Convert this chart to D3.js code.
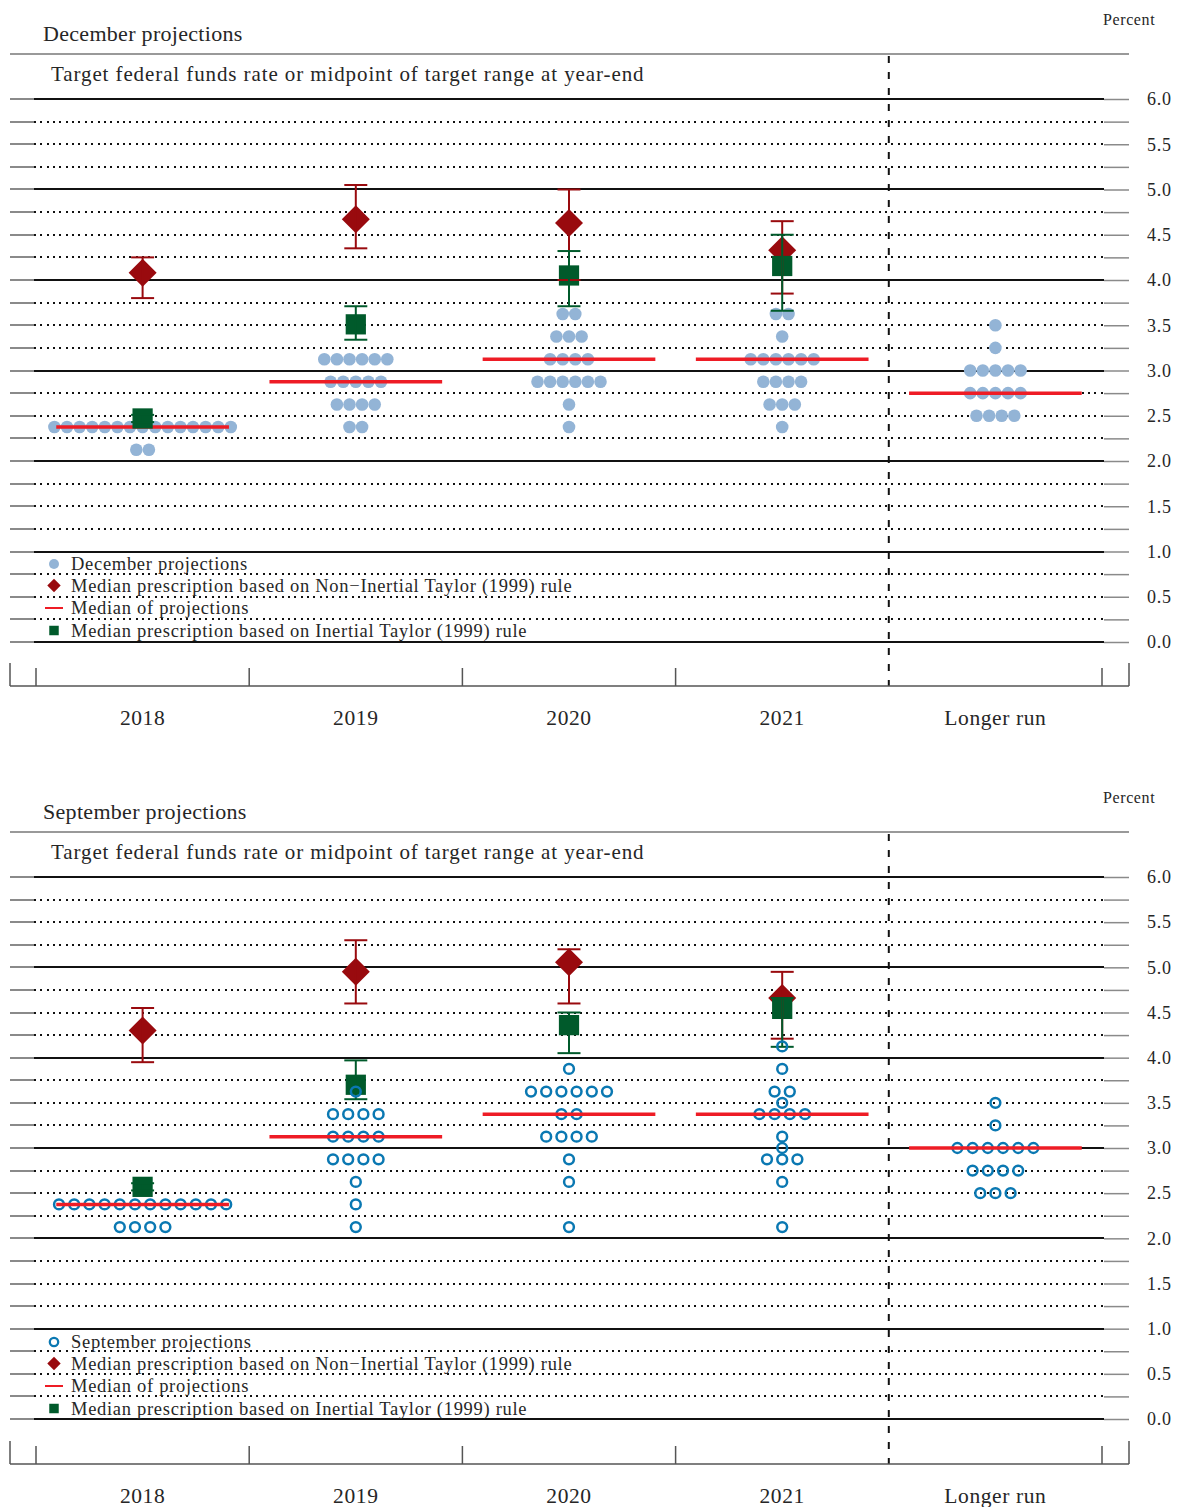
<!DOCTYPE html>
<html>
<head>
<meta charset="utf-8">
<script src="https://cdn.jsdelivr.net/npm/d3@7"></script>
<style>
  body { margin: 0; background: #fff; }
  svg { display: block; }
  text { font-family: "Liberation Serif", "Times New Roman", serif; fill: #262626; }
</style>
</head>
<body>
<svg id="chart" width="1180" height="1507"></svg>
<script>
// ---- Data ---------------------------------------------------------------
const categories = ["2018", "2019", "2020", "2021", "Longer run"];
const yLabelValues = [0, 0.5, 1, 1.5, 2, 2.5, 3, 3.5, 4, 4.5, 5, 5.5, 6];
const yTickLabels = ["0.0", "0.5", "1.0", "1.5", "2.0", "2.5", "3.0", "3.5", "4.0", "4.5", "5.0", "5.5", "6.0"];
const gridValues = d3.range(0, 25).map(i => i * 0.25);

// December projections: rate levels per column and number of participants at each
const decDotRates = [
  [2.375, 2.125],
  [3.125, 2.875, 2.625, 2.375],
  [3.625, 3.375, 3.125, 2.875, 2.625, 2.375],
  [3.625, 3.375, 3.125, 2.875, 2.625, 2.375],
  [3.5, 3.25, 3.0, 2.75, 2.5]
];
const decDotCounts = [
  [15, 2],
  [6, 5, 4, 2],
  [2, 3, 4, 6, 1, 1],
  [2, 1, 6, 4, 3, 1],
  [1, 1, 5, 5, 4]
];
const decMedians = [2.375, 2.875, 3.125, 3.125, 2.75];
const decNonInertial = [4.08, 4.67, 4.63, 4.33];
const decNonInertialLow = [3.80, 4.35, 4.00, 3.85];
const decNonInertialHigh = [4.25, 5.05, 5.00, 4.65];
const decInertial = [2.47, 3.51, 4.05, 4.155];
const decInertialLow = [2.43, 3.34, 3.71, 3.66];
const decInertialHigh = [2.51, 3.71, 4.32, 4.50];

// September projections
const sepDotRates = [
  [2.375, 2.125],
  [3.625, 3.375, 3.125, 2.875, 2.625, 2.375, 2.125],
  [3.875, 3.625, 3.375, 3.125, 2.875, 2.625, 2.125],
  [4.125, 3.875, 3.625, 3.5, 3.375, 3.125, 3.0, 2.875, 2.625, 2.125],
  [3.5, 3.25, 3.0, 2.75, 2.5]
];
const sepDotCounts = [
  [12, 4],
  [1, 4, 4, 4, 1, 1, 1],
  [1, 6, 2, 4, 1, 1, 1],
  [1, 1, 2, 1, 4, 1, 1, 3, 1, 1],
  [1, 1, 6, 4, 3]
];
const sepMedians = [2.375, 3.125, 3.375, 3.375, 3.0];
const sepNonInertial = [4.30, 4.95, 5.055, 4.66];
const sepNonInertialLow = [3.95, 4.60, 4.60, 4.21];
const sepNonInertialHigh = [4.55, 5.30, 5.20, 4.95];
const sepInertial = [2.57, 3.70, 4.36, 4.54];
const sepInertialLow = [2.53, 3.54, 4.05, 4.12];
const sepInertialHigh = [2.61, 3.97, 4.50, 4.66];

const legendLabels = [
  null, // first row is the panel's own dot label
  "Median prescription based on Non\u2212Inertial Taylor (1999) rule",
  "Median of projections",
  "Median prescription based on Inertial Taylor (1999) rule"
];

// ---- Styling ------------------------------------------------------------
const COLORS = {
  decDot: "#93b4d6",
  sepDot: "#0a78b2",
  diamond: "#990a0e",
  square: "#005a2b",
  median: "#ee1c25",
  grid: "#111",
  tick: "#8a8a8a",
  frame: "#555"
};

const svg = d3.select("#chart");
const x = d3.scaleBand().domain(categories).range([36, 1102]);

const panels = [
  {
    off: 0, y0: 642, y6: 99, title: "December projections", dotLabel: "December projections",
    open: false, rates: decDotRates, counts: decDotCounts, medians: decMedians,
    ni: decNonInertial, niLo: decNonInertialLow, niHi: decNonInertialHigh,
    in: decInertial, inLo: decInertialLow, inHi: decInertialHigh
  },
  {
    off: 778, y0: 1419, y6: 877, title: "September projections", dotLabel: "September projections",
    open: true, rates: sepDotRates, counts: sepDotCounts, medians: sepMedians,
    ni: sepNonInertial, niLo: sepNonInertialLow, niHi: sepNonInertialHigh,
    in: sepInertial, inLo: sepInertialLow, inHi: sepInertialHigh
  }
];

const diamondPath = d3.symbol(d3.symbolSquare, 392)();
const squarePath = d3.symbol(d3.symbolSquare, 410)();

function drawPanel(p) {
  const g = svg.append("g");
  const off = p.off;
  const y = d3.scaleLinear().domain([0, 6]).range([p.y0, p.y6]);
  const axisY = off + 686;

  // Headings
  g.append("text").attr("x", 1103).attr("y", off + 19).attr("dy", "0.35em")
    .style("font-size", "16px").style("letter-spacing", "0.6px").text("Percent");
  g.append("text").attr("x", 43).attr("y", off + 33).attr("dy", "0.35em")
    .style("font-size", "22px").style("letter-spacing", "0.3px").text(p.title);
  g.append("line").attr("x1", 10).attr("x2", 1129).attr("y1", off + 54).attr("y2", off + 54)
    .attr("stroke", "#777").attr("stroke-width", 1.5);
  g.append("text").attr("x", 51).attr("y", off + 74).attr("dy", "0.35em")
    .style("font-size", "21px").style("letter-spacing", "0.9px")
    .text("Target federal funds rate or midpoint of target range at year-end");

  // Horizontal grid: solid at whole percents, dotted at quarter points
  const grid = g.append("g").attr("shape-rendering", "crispEdges");
  gridValues.forEach(v => {
    const major = Math.abs(v - Math.round(v)) < 1e-9;
    const yy = Math.round(y(v));
    grid.append("line").attr("x1", 10).attr("x2", 34).attr("y1", yy).attr("y2", yy)
      .attr("stroke", COLORS.tick).attr("stroke-width", 1.5);
    grid.append("line").attr("x1", 34).attr("x2", 1104).attr("y1", yy).attr("y2", yy)
      .attr("stroke", COLORS.grid).attr("stroke-width", 2)
      .attr("stroke-dasharray", major ? null : "2,4.35");
  });

  // Right-hand value axis
  const yAxis = d3.axisRight(y).tickValues(gridValues).tickSize(25).tickPadding(18)
    .tickFormat(d => {
      const i = yLabelValues.findIndex(v => Math.abs(v - d) < 1e-9);
      return i >= 0 ? yTickLabels[i] : "";
    });
  const ya = g.append("g").attr("transform", "translate(1104,0)").call(yAxis);
  ya.attr("font-family", null).attr("font-size", null);
  ya.select(".domain").remove();
  ya.selectAll(".tick line").attr("stroke", COLORS.tick).attr("stroke-width", 1.5);
  ya.selectAll(".tick text").attr("fill", "#262626").style("font-size", "18px")
    .style("letter-spacing", "0.8px");

  // Separator before the longer-run column
  const sepX = x("Longer run");
  g.append("line").attr("x1", sepX).attr("x2", sepX).attr("y1", off + 56).attr("y2", axisY)
    .attr("stroke", "#111").attr("stroke-width", 2).attr("stroke-dasharray", "7,9");

  // Category axis
  g.append("line").attr("x1", 10).attr("x2", 1129).attr("y1", axisY).attr("y2", axisY)
    .attr("stroke", COLORS.frame).attr("stroke-width", 1.5);
  [10, 1129].forEach(xx => g.append("line").attr("x1", xx).attr("x2", xx)
    .attr("y1", axisY - 23).attr("y2", axisY).attr("stroke", COLORS.frame).attr("stroke-width", 1.5));
  const edges = categories.map(c => x(c)).concat([x.range()[1]]).filter(e => Math.abs(e - sepX) > 1);
  edges.forEach(e => g.append("line").attr("x1", e).attr("x2", e)
    .attr("y1", axisY - 18).attr("y2", axisY).attr("stroke", COLORS.frame).attr("stroke-width", 1.5));
  const xa = g.append("g").attr("transform", `translate(0,${axisY})`)
    .call(d3.axisBottom(x).tickSize(0).tickPadding(24));
  xa.attr("font-family", null).attr("font-size", null);
  xa.select(".domain").remove();
  xa.selectAll(".tick text").attr("fill", "#262626").style("font-size", "21.5px")
    .style("letter-spacing", "0.6px");

  const cx = c => x(c) + x.bandwidth() / 2;

  // Layers
  const dotLayer = g.append("g");
  const medianLayer = g.append("g");
  const markerLayer = g.append("g");
  if (p.open) { dotLayer.raise(); medianLayer.raise(); }

  // Participants' projections
  const spacing = p.open ? 15.2 : 12.6;
  categories.forEach((c, ci) => {
    p.rates[ci].forEach((r, ri) => {
      const n = p.counts[ci][ri];
      d3.range(n).forEach(k => {
        const circ = dotLayer.append("circle")
          .attr("cx", cx(c) + (k - (n - 1) / 2) * spacing)
          .attr("cy", y(r));
        if (p.open) {
          circ.attr("r", 4.9).attr("fill", "none")
            .attr("stroke", COLORS.sepDot).attr("stroke-width", 2.5);
        } else {
          circ.attr("r", 6.3).attr("fill", COLORS.decDot);
        }
      });
    });
  });

  // Medians of projections
  const half = x.bandwidth() * 0.405;
  categories.forEach((c, ci) => {
    medianLayer.append("line").attr("x1", cx(c) - half).attr("x2", cx(c) + half)
      .attr("y1", y(p.medians[ci])).attr("y2", y(p.medians[ci]))
      .attr("stroke", COLORS.median).attr("stroke-width", 3.5);
  });

  // Policy-rule prescriptions with ranges
  const capHalf = 11.5;
  function errorBar(c, lo, hi, color) {
    const gg = markerLayer.append("g").attr("stroke", color).attr("stroke-width", 2);
    gg.append("line").attr("x1", cx(c)).attr("x2", cx(c)).attr("y1", y(lo)).attr("y2", y(hi));
    [lo, hi].forEach(v => gg.append("line").attr("x1", cx(c) - capHalf).attr("x2", cx(c) + capHalf)
      .attr("y1", y(v)).attr("y2", y(v)));
  }
  const rule = categories.slice(0, 4);
  rule.forEach((c, ci) => {
    markerLayer.append("path").attr("d", diamondPath)
      .attr("transform", `translate(${cx(c)},${y(p.ni[ci])}) rotate(45)`)
      .attr("fill", COLORS.diamond);
  });
  rule.forEach((c, ci) => {
    markerLayer.append("path").attr("d", squarePath)
      .attr("transform", `translate(${cx(c)},${y(p.in[ci])})`)
      .attr("fill", COLORS.square);
  });
  rule.forEach((c, ci) => errorBar(c, p.niLo[ci], p.niHi[ci], COLORS.diamond));
  rule.forEach((c, ci) => errorBar(c, p.inLo[ci], p.inHi[ci], COLORS.square));

  // Legend
  const lg = g.append("g");
  const rows = [off + 564, off + 585.5, off + 608, off + 630.5];
  const labels = [p.dotLabel].concat(legendLabels.slice(1));
  rows.forEach((ry, i) => {
    lg.append("text").attr("x", 71).attr("y", ry).attr("dy", "0.35em")
      .style("font-size", "18.5px").style("letter-spacing", "0.7px").text(labels[i]);
  });
  if (p.open) {
    lg.append("circle").attr("cx", 54).attr("cy", rows[0]).attr("r", 4.2)
      .attr("fill", "none").attr("stroke", COLORS.sepDot).attr("stroke-width", 2.3);
  } else {
    lg.append("circle").attr("cx", 54).attr("cy", rows[0]).attr("r", 5).attr("fill", COLORS.decDot);
  }
  lg.append("path").attr("d", d3.symbol(d3.symbolSquare, 90)())
    .attr("transform", `translate(54,${rows[1]}) rotate(45)`).attr("fill", COLORS.diamond);
  lg.append("line").attr("x1", 45).attr("x2", 63).attr("y1", rows[2]).attr("y2", rows[2])
    .attr("stroke", COLORS.median).attr("stroke-width", 2);
  lg.append("path").attr("d", d3.symbol(d3.symbolSquare, 90)())
    .attr("transform", `translate(54,${rows[3]})`).attr("fill", COLORS.square);
}

panels.forEach(drawPanel);
</script>
</body>
</html>
